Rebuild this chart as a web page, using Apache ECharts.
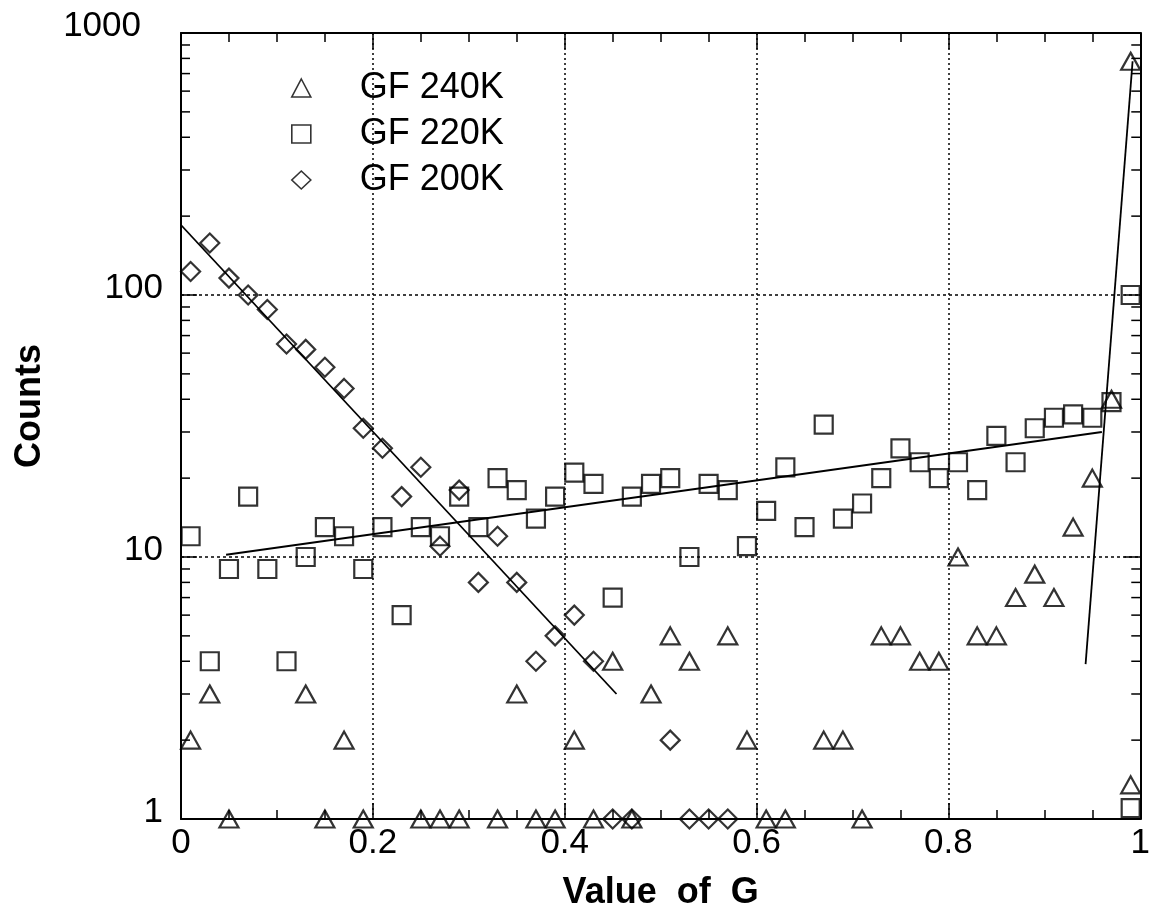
<!DOCTYPE html>
<html>
<head>
<meta charset="utf-8">
<script src="https://cdn.jsdelivr.net/npm/echarts@6/dist/echarts.min.js"></script>
<style>
html,body{margin:0;padding:0;background:#fff;overflow:hidden;width:1153px;height:916px;}
#c{width:1153px;height:916px;display:block;overflow:hidden;}
</style>
</head>
<body>
<div id="c"></div>
<script>
// ---- data ----
const seriesNames = ['GF 240K', 'GF 220K', 'GF 200K'];

const g240 = [0.01,0.03,0.05,0.13,0.15,0.17,0.19,0.25,0.27,0.29,0.33,0.35,0.37,0.39,0.41,0.43,0.45,0.47,0.49,0.51,0.53,0.57,0.59,0.61,0.63,0.67,0.69,0.71,0.73,0.75,0.77,0.79,0.81,0.83,0.85,0.87,0.89,0.91,0.93,0.95,0.97,0.99,0.99];
const c240 = [2,3,1,3,1,2,1,1,1,1,1,3,1,1,2,1,4,1,3,5,4,5,2,1,1,2,2,1,5,5,4,4,10,5,5,7,8.6,7,13,20,40,780,1.35];

const g220 = [0.01,0.03,0.05,0.07,0.09,0.11,0.13,0.15,0.17,0.19,0.21,0.23,0.25,0.27,0.29,0.31,0.33,0.35,0.37,0.39,0.41,0.43,0.45,0.47,0.49,0.51,0.53,0.55,0.57,0.59,0.61,0.63,0.65,0.67,0.69,0.71,0.73,0.75,0.77,0.79,0.81,0.83,0.85,0.87,0.89,0.91,0.93,0.95,0.97,0.99,0.99];
const c220 = [12,4,9,17,9,4,10,13,12,9,13,6,13,12,17,13,20,18,14,17,21,19,7,17,19,20,10,19,18,11,15,22,13,32,14,16,20,26,23,20,23,18,29,23,31,34,35,34,39,100,1.1];

const g200 = [0.01,0.03,0.05,0.07,0.09,0.11,0.13,0.15,0.17,0.19,0.21,0.23,0.25,0.27,0.29,0.31,0.33,0.35,0.37,0.39,0.41,0.43,0.45,0.47,0.51,0.53,0.55,0.57];
const c200 = [123,158,116,100,88,65,62,53,44,31,26,17,22,11,18,8,12,8,4,5,6,4,1,1,2,1,1,1];

// fitted lines (end points)
const fit240G = [0.943, 0.992];
const fit240C = [3.9, 780];
const fit220G = [0.047, 0.96];
const fit220C = [10.2, 30];
const fit200G = [0, 0.454];
const fit200C = [185, 3.0];

const xTicks = [0, 0.2, 0.4, 0.6, 0.8, 1];
const yTicks = [1, 10, 100, 1000];

// ---- chart ----
const FONT = '"Liberation Sans", Arial, Helvetica, sans-serif';
const zip = (a, b) => a.map((v, i) => [v, b[i]]);
const markerStyle = {color: 'transparent', borderColor: '#000', borderWidth: 2.2};
const lineStyle = {color: '#000', width: 1.8};

const chart = echarts.init(document.getElementById('c'), null, {renderer: 'canvas', width: 1153, height: 916});

const tickStyle = {color: '#000', width: 1.5};
const baseX = {
  type: 'value', min: xTicks[0], max: xTicks[xTicks.length - 1], interval: 0.2,
  axisLine: {show: true, onZero: false, lineStyle: {color: '#000', width: 2}},
  axisTick: {show: true, inside: true, length: 16, lineStyle: tickStyle},
  minorTick: {show: true, splitNumber: 4, length: 9, lineStyle: tickStyle}
};
const baseY = {
  type: 'log', logBase: 10, min: yTicks[0], max: yTicks[yTicks.length - 1],
  axisLine: {show: true, onZero: false, lineStyle: {color: '#000', width: 2}},
  axisTick: {show: true, inside: true, length: 16, lineStyle: tickStyle}
};

chart.setOption({
  animation: false,
  backgroundColor: '#fff',
  grid: {left: 181, top: 33, width: 970, height: 790, containLabel: false},
  legend: {
    data: seriesNames,
    orient: 'vertical',
    left: 286, top: 65,
    itemWidth: 19, itemHeight: 18, itemGap: 10,
    itemStyle: {color: 'transparent', borderColor: '#000', borderWidth: 1.6},
    textStyle: {fontFamily: FONT, fontSize: 36, color: '#000', lineHeight: 34, padding: [0, 0, 0, 44]}
  },
  xAxis: [
    Object.assign({}, baseX, {
      position: 'bottom',
      axisLabel: {show: true, fontFamily: FONT, fontSize: 35, color: '#000', margin: 7,
        formatter: v => String(+v.toFixed(1))},
      splitLine: {show: true, lineStyle: {color: '#000', width: 1.5, type: [2, 3]}},
      name: 'Value  of  G', nameLocation: 'middle', nameGap: 56,
      nameTextStyle: {fontFamily: FONT, fontSize: 36, fontWeight: 'bold', color: '#000'}
    }),
    Object.assign({}, baseX, {
      position: 'top',
      axisLabel: {show: false},
      splitLine: {show: false}
    })
  ],
  yAxis: [
    Object.assign({}, baseY, {
      position: 'left',
      axisLabel: {show: true, fontFamily: FONT, fontSize: 35, color: '#000', margin: 18,
        padding: [0, 0, 14, 0],
        formatter: v => (v >= 1000 ? '{top|' + v + '}' : String(v)),
        rich: {top: {fontFamily: FONT, fontSize: 35, color: '#000', padding: [0, 22, 0, 0]}}},
      splitLine: {show: true, lineStyle: {color: '#000', width: 1.5, type: [3, 3]}},
      name: 'Counts', nameLocation: 'middle', nameGap: 133,
      nameTextStyle: {fontFamily: FONT, fontSize: 36, fontWeight: 'bold', color: '#000', padding: [0, 0, 0, 40]}
    }),
    Object.assign({}, baseY, {
      position: 'right',
      axisLabel: {show: false},
      splitLine: {show: false}
    })
  ],
  series: [
    {name: seriesNames[0], type: 'scatter', symbol: 'triangle', symbolSize: [19, 17],
      itemStyle: markerStyle, data: zip(g240, c240), z: 3},
    {name: seriesNames[1], type: 'scatter', symbol: 'rect', symbolSize: [18, 18],
      itemStyle: markerStyle, data: zip(g220, c220), z: 3},
    {name: seriesNames[2], type: 'scatter', symbol: 'diamond', symbolSize: [19, 19],
      itemStyle: markerStyle, data: zip(g200, c200), z: 3},
    {name: 'fit240', type: 'line', showSymbol: false, symbol: 'none', lineStyle: lineStyle,
      data: zip(fit240G, fit240C), z: 4},
    {name: 'fit220', type: 'line', showSymbol: false, symbol: 'none', lineStyle: lineStyle,
      data: zip(fit220G, fit220C), z: 4},
    {name: 'fit200', type: 'line', showSymbol: false, symbol: 'none', lineStyle: lineStyle,
      data: zip(fit200G, fit200C), z: 4}
  ]
});

// minor ticks of the log axis (2..9 in each decade), placed through the axis scale
const minor = [];
for (let d = yTicks[0]; d < yTicks[yTicks.length - 1]; d *= 10) {
  for (let m = 2; m <= 9; m++) minor.push(m * d);
}
const xl = chart.convertToPixel({xAxisIndex: 0}, xTicks[0]);
const xr = chart.convertToPixel({xAxisIndex: 0}, xTicks[xTicks.length - 1]);
const g = [];
minor.forEach(v => {
  const y = chart.convertToPixel({yAxisIndex: 0}, v);
  g.push({type: 'line', shape: {x1: xl, y1: y, x2: xl + 9, y2: y}, style: {stroke: '#000', lineWidth: 1.5}, z: 5});
  g.push({type: 'line', shape: {x1: xr - 9, y1: y, x2: xr, y2: y}, style: {stroke: '#000', lineWidth: 1.5}, z: 5});
});
chart.setOption({graphic: g});
</script>
</body>
</html>
